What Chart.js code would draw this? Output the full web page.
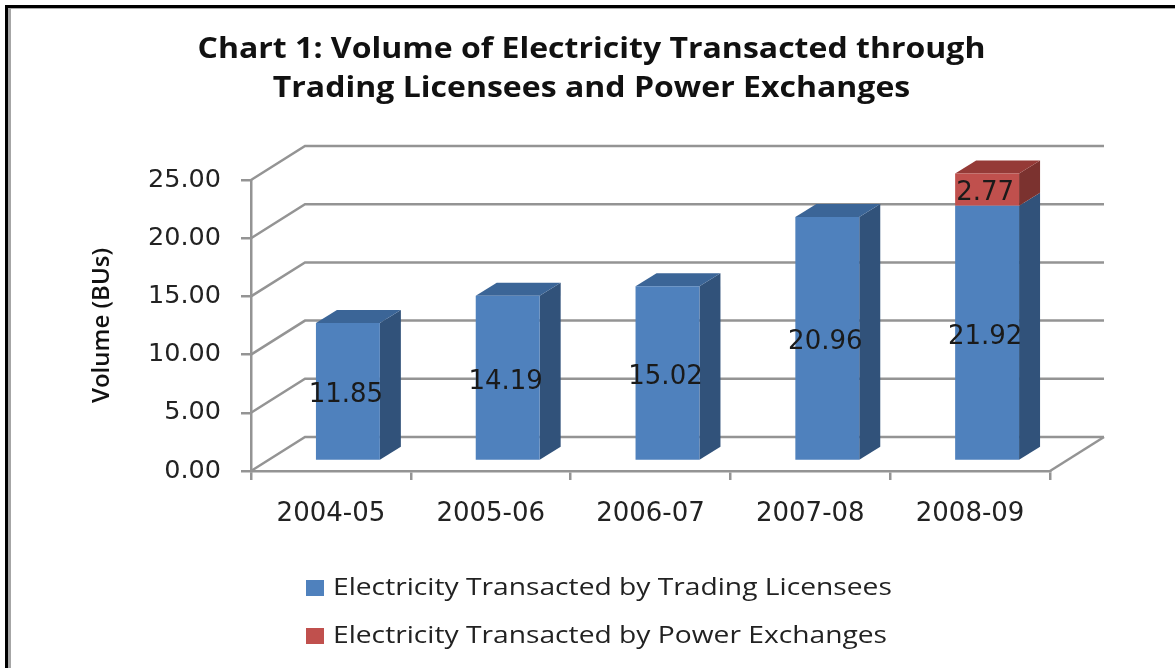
<!DOCTYPE html>
<html>
<head>
<meta charset="utf-8">
<title>Chart 1</title>
<script src="https://cdn.jsdelivr.net/npm/chart.js@4"></script>
<style>
  html, body { margin: 0; padding: 0; background: #fff; overflow: hidden; }
  #wrap { position: relative; width: 1175px; height: 668px; filter: blur(0.6px); }
  .rule { position: absolute; }
</style>
</head>
<body>
<div id="wrap">
  <canvas id="grafico" width="1175" height="668"></canvas>
  <div class="rule" style="left:5px;top:5px;right:0;height:3px;background:#000"></div>
  <div class="rule" style="left:8px;top:8px;right:0;height:1px;background:#aaa"></div>
  <div class="rule" style="left:5px;top:5px;bottom:0;width:3px;background:#000"></div>
  <div class="rule" style="left:8px;top:8px;bottom:0;width:3px;background:#a6a6a6"></div>
</div>
<script>
const titulo = ["Chart 1: Volume of Electricity Transacted through", "Trading Licensees and Power Exchanges"];
const categorias = ["2004-05", "2005-06", "2006-07", "2007-08", "2008-09"];
const licensees = [11.85, 14.19, 15.02, 20.96, 21.92];
const exchanges = [0, 0, 0, 0, 2.77];
const nombres = ["Electricity Transacted by Trading Licensees", "Electricity Transacted by Power Exchanges"];

const gris = "#949494";
const caras = [
  { frente: "#4f81bd", lado: "#31527a", tapa: "#3b6597" },
  { frente: "#c0504d", lado: "#7b322f", tapa: "#953a37" }
];

// 3d look: the bars sit a bit inside the floor
const offX = 17, offY = -10;
const fondoX = 21, fondoY = -13;
const paredX = 54, paredY = -34;

function poligono(ctx, pts, color) {
  ctx.fillStyle = color;
  ctx.beginPath();
  pts.forEach((p, i) => i ? ctx.lineTo(p[0], p[1]) : ctx.moveTo(p[0], p[1]));
  ctx.closePath();
  ctx.fill();
}

// the source picture is stretched sideways, so title and legend are too
function textoAncho(ctx, txt, x, y, k) {
  ctx.save();
  ctx.translate(x, y);
  ctx.scale(k, 1);
  ctx.fillText(txt, 0, 0);
  ctx.restore();
}

const tresD = {
  id: "tresD",
  beforeDatasetsDraw(chart) {
    const ctx = chart.ctx;
    const y = chart.scales.y;
    const area = chart.chartArea;
    ctx.save();
    ctx.strokeStyle = gris;
    ctx.lineWidth = 2.5;
    y.ticks.forEach(t => {
      const py = y.getPixelForValue(t.value);
      ctx.beginPath();
      ctx.moveTo(area.left, py);
      ctx.lineTo(area.left + paredX, py + paredY);
      ctx.lineTo(area.right + paredX, py + paredY);
      ctx.stroke();
    });
    const y0 = y.getPixelForValue(0);
    ctx.beginPath();
    ctx.moveTo(area.right, y0);
    ctx.lineTo(area.right + paredX, y0 + paredY);
    ctx.stroke();

    // sides and tops of the bars
    chart.getSortedVisibleDatasetMetas().forEach((meta, ds) => {
      meta.data.forEach((bar, i) => {
        if (!chart.data.datasets[ds].data[i]) return;
        const der = bar.x + bar.width / 2 + offX;
        const izq = bar.x - bar.width / 2 + offX;
        const arr = bar.y + offY, aba = bar.base + offY;
        poligono(ctx, [[der, arr], [der + fondoX, arr + fondoY], [der + fondoX, aba + fondoY], [der, aba]], caras[ds].lado);
        const arriba = ds === 1 || !exchanges[i];
        if (arriba) {
          poligono(ctx, [[izq, arr], [izq + fondoX, arr + fondoY], [der + fondoX, arr + fondoY], [der, arr]], caras[ds].tapa);
        }
      });
    });
    ctx.restore();
  },
  beforeDatasetDraw(chart) {
    chart.ctx.save();
    chart.ctx.translate(offX, offY);
  },
  afterDatasetDraw(chart) {
    chart.ctx.restore();
  },
  afterDatasetsDraw(chart) {
    const ctx = chart.ctx;
    ctx.save();
    ctx.fillStyle = "#1a1a1a";
    ctx.font = "26px 'DejaVu Sans'";
    ctx.textAlign = "center";
    ctx.textBaseline = "middle";
    chart.getSortedVisibleDatasetMetas().forEach((meta, ds) => {
      meta.data.forEach((bar, i) => {
        const v = chart.data.datasets[ds].data[i];
        if (!v) return;
        ctx.fillText(v.toFixed(2), bar.x + offX - 2, (bar.y + bar.base) / 2 + offY + 4);
      });
    });
    ctx.restore();
  },
  afterDraw(chart) {
    const ctx = chart.ctx;
    ctx.save();
    ctx.textBaseline = "middle";

    ctx.font = "bold 29px 'Open Sans'";
    ctx.textAlign = "center";
    ctx.fillStyle = "#111";
    titulo.forEach((linea, i) => textoAncho(ctx, linea, 591.5, 50 + i * 39, 1.104));

    ctx.font = "24px 'Open Sans'";
    ctx.textAlign = "left";
    chart.data.datasets.forEach((d, i) => {
      const cy = 588 + i * 48;
      ctx.fillStyle = d.backgroundColor;
      ctx.fillRect(306, cy - 8, 18, 16);
      ctx.fillStyle = "#222";
      textoAncho(ctx, d.label, 333, cy, 1.175);
    });
    ctx.restore();
  }
};

new Chart(document.getElementById("grafico").getContext("2d"), {
  type: "bar",
  data: {
    labels: categorias,
    datasets: [
      { label: nombres[0], data: licensees, backgroundColor: caras[0].frente },
      { label: nombres[1], data: exchanges, backgroundColor: caras[1].frente }
    ]
  },
  options: {
    responsive: false,
    animation: false,
    layout: { padding: { left: 0, right: 125, top: 180, bottom: 0 } },
    datasets: { bar: { categoryPercentage: 1, barPercentage: 0.4 } },
    plugins: {
      legend: { display: false },
      tooltip: { enabled: false }
    },
    scales: {
      x: {
        stacked: true,
        afterFit: s => { s.height = 197; },
        border: { color: gris, width: 2.5 },
        grid: { drawOnChartArea: false, color: gris, lineWidth: 2.5, tickLength: 9 },
        ticks: { color: "#222", padding: 19, maxRotation: 0, font: { family: "'DejaVu Sans'", size: 26 } }
      },
      y: {
        stacked: true,
        min: 0,
        max: 25,
        afterFit: s => { s.width = 251; },
        border: { color: gris, width: 2.5 },
        grid: { drawOnChartArea: false, color: gris, lineWidth: 2.5, tickLength: 10 },
        ticks: {
          color: "#222",
          padding: 20,
          stepSize: 5,
          callback: v => v.toFixed(2),
          font: { family: "'DejaVu Sans'", size: 25.5 }
        },
        title: {
          display: true,
          text: "Volume (BUs)",
          color: "#111",
          font: { family: "'Open Sans'", size: 24, weight: "600" },
          padding: { top: 88, bottom: 0 }
        }
      }
    }
  },
  plugins: [tresD]
});
</script>
</body>
</html>
